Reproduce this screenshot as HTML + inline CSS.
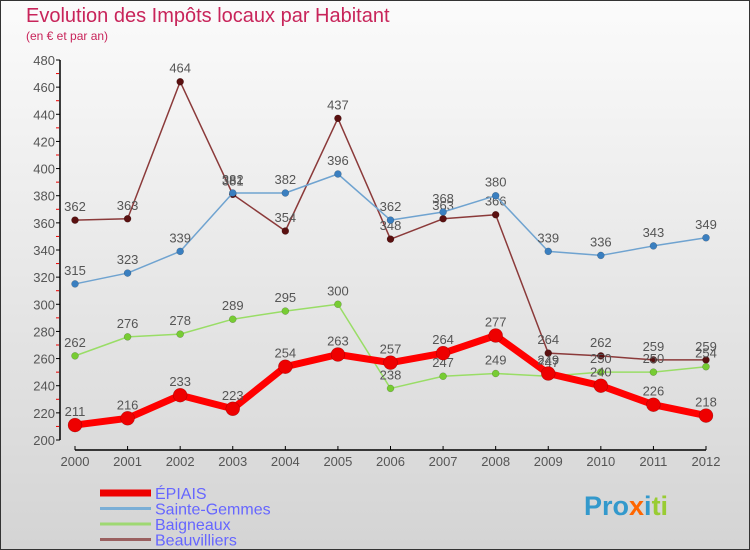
<!DOCTYPE html>
<html><head><meta charset="utf-8"><style>
body{margin:0;}
#c{width:750px;height:550px;position:relative;overflow:hidden;background:linear-gradient(#fbfbfb,#d4d4d4);box-sizing:border-box;border:1px solid #333;font-family:"Liberation Sans",sans-serif;}
</style></head><body>
<div id="c">
<svg id="s" width="750" height="550" style="position:absolute;left:-1px;top:-1px">
<text x="26" y="22" font-size="20" fill="#c8245a">Evolution des Impôts locaux par Habitant</text>
<text x="26" y="40" font-size="12" fill="#c8245a">(en € et par an)</text>
</svg>
</div>
<script>
const years=["2000","2001","2002","2003","2004","2005","2006","2007","2008","2009","2010","2011","2012"];
const yTicks=[200,220,240,260,280,300,320,340,360,380,400,420,440,460,480];
const epiais=[211,216,233,223,254,263,257,264,277,249,240,226,218];
const sainteGemmes=[315,323,339,382,382,396,362,368,380,339,336,343,349];
const baigneaux=[262,276,278,289,295,300,238,247,249,247,250,250,254];
const beauvilliers=[362,363,464,381,354,437,348,363,366,264,262,259,259];
const seriesNames=["ÉPIAIS","Sainte-Gemmes","Baigneaux","Beauvilliers"];
const NS="http://www.w3.org/2000/svg";
const svg=document.getElementById('s');
const X=i=>75+i*(706-75)/(years.length-1);
const Y=v=>440-(v-200)*(380/280);
function mk(t,a,p){const e=document.createElementNS(NS,t);for(const k in a)e.setAttribute(k,a[k]);(p||svg).appendChild(e);return e;}
let ax=mk('line',{x1:60,y1:60,x2:60,y2:440,stroke:'#000','stroke-width':1.5});


let xa=mk('line',{x1:75,y1:450,x2:706,y2:450,stroke:'#000','stroke-width':1.5});


yTicks.forEach(v=>{
  mk('line',{x1:56,y1:Y(v),x2:60,y2:Y(v),stroke:'#000'});
  if(v<480) mk('line',{x1:56,y1:Y(v+10),x2:59,y2:Y(v+10),stroke:'#e00'});
  const t=mk('text',{x:55,y:Y(v)+5,'font-size':13,'text-anchor':'end',fill:'#555'});
  t.textContent=v;
  
  
});
years.forEach((y,i)=>{
  mk('line',{x1:X(i),y1:446,x2:X(i),y2:450,stroke:'#000'});
  const t=mk('text',{x:X(i),y:466,'font-size':13,'text-anchor':'middle',fill:'#555'});
  t.textContent=y;
  
  
});
function series(d,color,w,r,dot,name){
  const g=mk('g',{});
  
  
  mk('polyline',{points:d.map((v,i)=>X(i)+','+Y(v)).join(' '),fill:'none',stroke:color,'stroke-width':w,'stroke-linejoin':'round'},g);
  d.forEach((v,i)=>{
    const c=mk('circle',{cx:X(i),cy:Y(v),r:r,fill:dot,stroke:'rgba(0,0,0,0.3)','stroke-width':0.5},g);
    
    
    const t=mk('text',{x:X(i),y:Y(v)-9,'font-size':13,'text-anchor':'middle',fill:'#555'},g);
    t.textContent=v;
  });
}
series(beauvilliers,'#8b3a3a',1.5,3.5,'#5a1010','beauvilliers');
series(sainteGemmes,'#6fa3d0',1.5,3.5,'#3a7fc0','sainte-gemmes');
series(baigneaux,'#99dd66',1.5,3.5,'#77cc33','baigneaux');
series(epiais,'#ff0000',7,7,'#ee0000','epiais');
const lc=['#ee0000','#7aaed6','#9ed872','#9a6060'];
const lw=[7,3,3,3];
seriesNames.forEach((n,i)=>{
  const y=493+i*15.5;
  const l=mk('line',{x1:100,y1:y,x2:151,y2:y,stroke:lc[i],'stroke-width':lw[i]});
  
  
  const t=mk('text',{x:155,y:y+6,'font-size':16,fill:'#6666ff'});
  t.textContent=n;
  
  
});
const logo=mk('text',{x:584,y:515,'font-size':27,'font-weight':'bold',fill:'#f0a020'});
logo.innerHTML='<tspan fill="#3399cc">Pro</tspan><tspan fill="#ff6600">x</tspan><tspan fill="#3399cc">i</tspan><tspan fill="#99cc33">ti</tspan>';


</script>
</body></html>
